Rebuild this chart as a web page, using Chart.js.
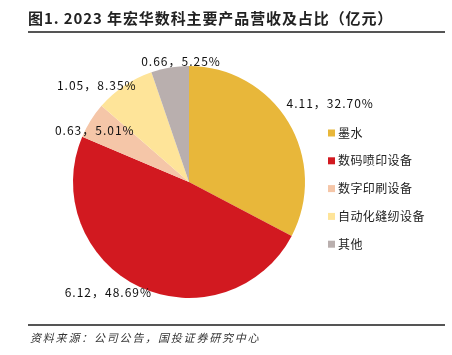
<!DOCTYPE html>
<html><head><meta charset="utf-8">
<script src="https://cdn.jsdelivr.net/npm/chart.js@4"></script>
<style>html,body{margin:0;padding:0;background:#fff}#wrap{width:452px;height:355px;position:relative}</style>
</head><body><div id="wrap"><canvas id="c" width="452" height="355"></canvas></div>
<script>
const categories = ['墨水','数码喷印设备','数字印刷设备','自动化缝纫设备','其他'];
const revenues = [4.11, 6.12, 0.63, 1.05, 0.66];
const shares = ['32.70%','48.69%','5.01%','8.35%','5.25%'];
const colors = ['#E8B73A','#D21920','#F5C6A8','#FEE499','#B9AFAE'];
const titleText = '图1. 2023 年宏华数科主要产品营收及占比（亿元）';
const sourceText = '资料来源：公司公告，国投证券研究中心';

const labelOffsets = [[32,-13],[-26,-5],[14,16],[-21,9],[13,5]];
const CJK = '"Noto Sans CJK SC", "Noto Sans", sans-serif';

const deco = {
  id:'deco',
  afterDraw(chart){
    const ctx = chart.ctx;
    ctx.save();
    ctx.fillStyle = '#222';
    ctx.font = 'bold 15px ' + CJK;
    ctx.letterSpacing = '0.9px';
    ctx.textBaseline = 'middle';
    ctx.textAlign = 'left';
    ctx.fillText(titleText, 28, 18);
    ctx.fillStyle = '#555';
    ctx.fillRect(28, 31, 417, 2);
    ctx.fillRect(28, 324, 417, 2);
    ctx.fillStyle = '#333';
    ctx.font = 'italic 11px ' + CJK;
    ctx.letterSpacing = '1.8px';
    ctx.fillText(sourceText, 30, 338);
    const meta = chart.getDatasetMeta(0);
    ctx.font = '12px ' + CJK;
    ctx.letterSpacing = '1px';
    ctx.fillStyle = '#111';
    ctx.textAlign = 'center';
    meta.data.forEach((arc, i) => {
      const mid = (arc.startAngle + arc.endAngle) / 2;
      const r = arc.outerRadius * 1.1;
      const x = arc.x + Math.cos(mid) * r + labelOffsets[i][0];
      const y = arc.y + Math.sin(mid) * r + labelOffsets[i][1];
      ctx.fillText(revenues[i].toFixed(2) + '，' + shares[i], x, y);
    });
    ctx.textAlign = 'left';
    ctx.font = '12px ' + CJK;
    ctx.letterSpacing = '0.4px';
    categories.forEach((c, i) => {
      const y = 133 + i * 27.8;
      ctx.fillStyle = colors[i];
      ctx.fillRect(328, y - 3.5, 7, 7);
      ctx.fillStyle = '#222';
      ctx.fillText(c, 338, y);
    });
    ctx.restore();
  }
};

new Chart(document.getElementById('c'), {
  type: 'pie',
  data: { labels: categories, datasets: [{ data: revenues, backgroundColor: colors, borderWidth: 0 }] },
  options: {
    responsive: false, animation: false,
    layout: { padding: { left: 73, right: 147, top: 66, bottom: 57 } },
    plugins: { legend: { display: false }, tooltip: { enabled: false } }
  },
  plugins: [deco]
});
</script></body></html>
